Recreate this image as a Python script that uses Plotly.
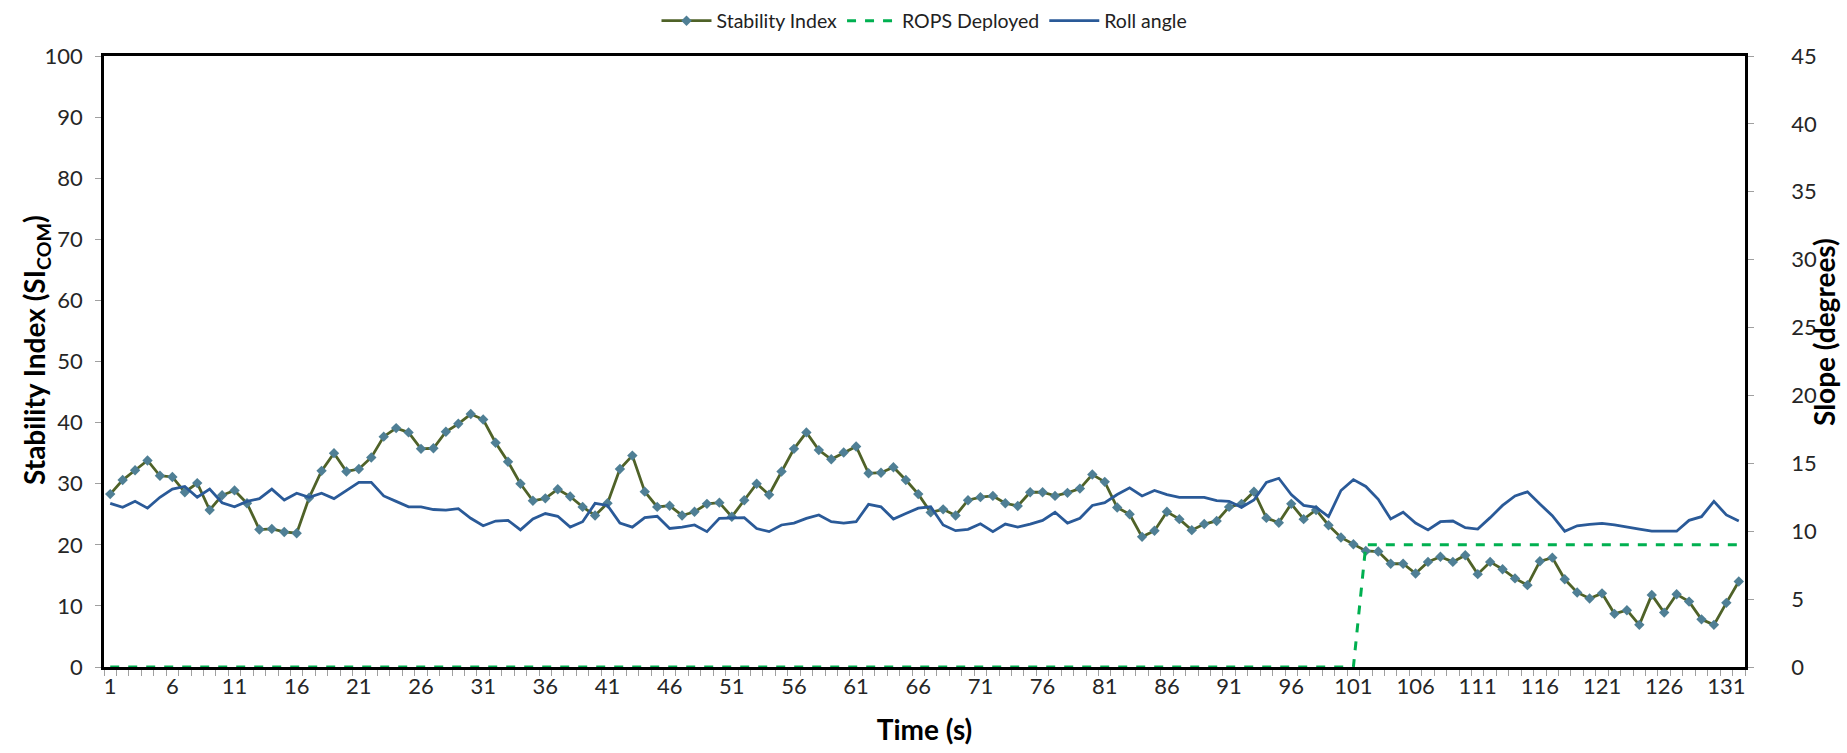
import plotly.graph_objects as go

time_s = list(range(1, 133))

stability_index = [
    28.3, 30.6, 32.2, 33.8, 31.3, 31.1, 28.6, 30.1, 25.7, 28.1,
    28.9, 26.8, 22.5, 22.6, 22.1, 21.9, 27.7, 32.1, 35.0, 32.0,
    32.4, 34.3, 37.7, 39.1, 38.4, 35.7, 35.8, 38.5, 39.8, 41.4,
    40.5, 36.7, 33.6, 30.0, 27.2, 27.6, 29.1, 27.9, 26.2, 24.8,
    26.8, 32.4, 34.6, 28.7, 26.2, 26.4, 24.8, 25.4, 26.7, 26.9,
    24.6, 27.3, 30.0, 28.2, 32.0, 35.7, 38.4, 35.5, 34.0, 35.1,
    36.1, 31.7, 31.8, 32.7, 30.6, 28.3, 25.3, 25.8, 24.8, 27.3,
    27.8, 28.0, 26.8, 26.35, 28.6, 28.6, 28.0, 28.5, 29.2, 31.5,
    30.3, 26.1, 25.0, 21.3, 22.3, 25.4, 24.2, 22.4, 23.4, 23.9,
    26.2, 26.7, 28.7, 24.4, 23.6, 26.7, 24.2, 25.7, 23.2, 21.2,
    20.1, 19.0, 18.9, 16.9, 16.9, 15.3, 17.2, 18.05, 17.2, 18.3,
    15.2, 17.2, 16.0, 14.5, 13.4, 17.3, 17.9, 14.35, 12.2, 11.2,
    12.05, 8.7, 9.3, 6.9, 11.8, 8.9, 11.9, 10.7, 7.8, 6.9,
    10.5, 14.0,
]

rops_deployed = [0] * 101 + [20] * 31

roll_angle = [
    12.05, 11.76, 12.2, 11.7, 12.5, 13.1, 13.3, 12.5, 13.1, 12.1,
    11.8, 12.2, 12.4, 13.1, 12.3, 12.8, 12.5, 12.8, 12.4, 13.0,
    13.6, 13.6, 12.6, 12.2, 11.8, 11.8, 11.6, 11.56, 11.66, 10.95,
    10.4, 10.75, 10.8, 10.1, 10.9, 11.3, 11.1, 10.3, 10.7, 12.05,
    11.9, 10.6, 10.3, 11.0, 11.1, 10.2, 10.3, 10.46, 9.97, 10.95,
    10.95, 11.0, 10.2, 9.97, 10.46, 10.6, 10.95, 11.2, 10.7, 10.6,
    10.7, 11.98, 11.8, 10.9, 11.3, 11.7, 11.8, 10.46, 10.04, 10.14,
    10.55, 9.97, 10.53, 10.3, 10.53, 10.8, 11.4, 10.6, 10.95, 11.9,
    12.1, 12.7, 13.2, 12.6, 13.0, 12.7, 12.5, 12.5, 12.5, 12.25,
    12.2, 11.76, 12.3, 13.6, 13.9, 12.7, 11.9, 11.76, 11.07, 13.0,
    13.8, 13.3, 12.35, 10.9, 11.4, 10.6, 10.1, 10.7, 10.75, 10.26,
    10.16, 11.0, 11.9, 12.6, 12.9, 12.0, 11.15, 10.0, 10.4, 10.5,
    10.58, 10.46, 10.33, 10.16, 10.0, 10.0, 10.0, 10.8, 11.07, 12.2,
    11.2, 10.75,
]

x_tick_vals = list(range(1, 133, 5))
x_tick_text = [str(v) for v in x_tick_vals]

FONT = "Lato"
TICK_COLOR = "#262626"
TICK_SIZE = 22
TITLE_SIZE = 28

W, H = 1847, 753
ML, MR, MT, MB = 104, 102, 56, 86
PW = W - ML - MR
PH = H - MT - MB

fig = go.Figure()

fig.add_trace(go.Scatter(
    x=time_s, y=stability_index, name="Stability Index",
    mode="lines+markers",
    line=dict(color="#4F6228", width=2.8),
    marker=dict(symbol="diamond", size=8, color="#4F7F95",
                line=dict(color="#4F7F95", width=0)),
    yaxis="y",
))

fig.add_trace(go.Scatter(
    x=time_s, y=rops_deployed, name="ROPS Deployed",
    mode="lines",
    line=dict(color="#00B050", width=3, dash="dash"),
    yaxis="y", cliponaxis=False,
))

fig.add_trace(go.Scatter(
    x=time_s, y=roll_angle, name="Roll angle",
    mode="lines",
    line=dict(color="#2A5A98", width=2.8),
    yaxis="y2",
))

fig.update_layout(
    width=W, height=H,
    margin=dict(l=ML, r=MR, t=MT, b=MB, autoexpand=False),
    paper_bgcolor="white", plot_bgcolor="white",
    font=dict(family=FONT, size=TICK_SIZE, color=TICK_COLOR),
    showlegend=True,
    legend=dict(orientation="h", x=0.5, xanchor="center",
                yref="container", y=1 - 21 / H, yanchor="middle",
                font=dict(family=FONT, size=19.5, color="#222222"),
                itemwidth=50, traceorder="normal", bgcolor="rgba(0,0,0,0)"),
    xaxis=dict(
        range=[0.5, 132.5],
        tickmode="array", tickvals=x_tick_vals, ticktext=x_tick_text,
        ticks="", showgrid=False, zeroline=False,
        showline=True, linecolor="black", linewidth=2.5, mirror=True,
        layer="below traces",
        tickfont=dict(family=FONT, size=TICK_SIZE, color=TICK_COLOR),
        ticklabelstandoff=-2,
        minor=dict(ticks="outside", tick0=0.5, dtick=1, ticklen=6,
                   tickcolor="#A0A0A0", tickwidth=1, showgrid=False),
        title=dict(text="<b>Time (s)</b>",
                   font=dict(family=FONT, size=TITLE_SIZE, color="#000000"),
                   standoff=23),
        automargin=False,
    ),
    yaxis=dict(
        range=[0, 100], dtick=10, tick0=0,
        ticks="outside", ticklen=6, tickcolor="#A0A0A0", tickwidth=1,
        showgrid=False, zeroline=False,
        showline=True, linecolor="black", linewidth=2.5,
        tickfont=dict(family=FONT, size=TICK_SIZE, color=TICK_COLOR),
        ticklabelstandoff=8,
        automargin=False,
    ),
    yaxis2=dict(
        range=[0, 45], dtick=5, tick0=0,
        overlaying="y", side="right",
        ticks="outside", ticklen=6, tickcolor="#A0A0A0", tickwidth=1,
        showgrid=False, zeroline=False,
        showline=True, linecolor="black", linewidth=2.5,
        tickfont=dict(family=FONT, size=TICK_SIZE, color=TICK_COLOR),
        ticklabelstandoff=33,
        automargin=False,
    ),
    annotations=[
        dict(text="<b>Stability Index (SI<sub>COM</sub>)</b>",
             xref="paper", yref="paper", x=(36 - ML) / PW,
             y=(MT + PH - 350) / PH,
             xanchor="center", yanchor="middle", textangle=-90,
             showarrow=False,
             font=dict(family=FONT, size=TITLE_SIZE, color="#000000")),
        dict(text="<b>Slope (degrees)</b>",
             xref="paper", yref="paper", x=(1824 - ML) / PW,
             y=(MT + PH - 332) / PH,
             xanchor="center", yanchor="middle", textangle=-90,
             showarrow=False,
             font=dict(family=FONT, size=TITLE_SIZE, color="#000000")),
    ],
)

fig.write_html("out.html",
               config={"displayModeBar": False},
               post_script="document.body.style.margin='0px';"
                           "document.documentElement.style.overflow='hidden';")
